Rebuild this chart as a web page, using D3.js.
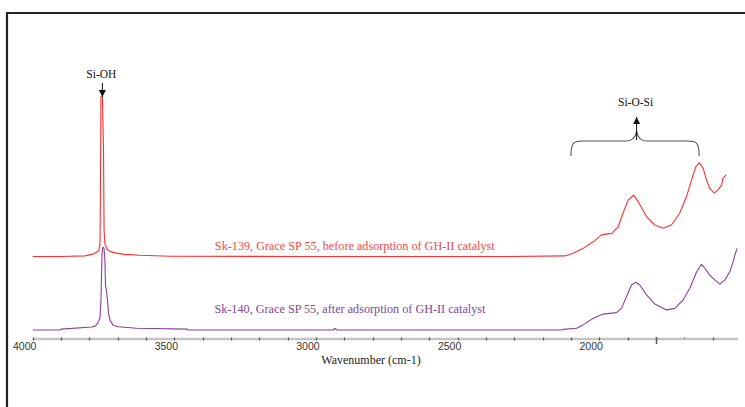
<!DOCTYPE html>
<html>
<head>
<meta charset="utf-8">
<script src="https://cdn.jsdelivr.net/npm/d3@7/dist/d3.min.js"></script>
<style>
  html, body { margin: 0; padding: 0; background: #fff; }
  svg { display: block; }
</style>
</head>
<body>
<svg id="chart" width="745" height="407"></svg>
<script>
// Sk-139: Grace SP 55 before adsorption of GH-II catalyst (wavenumber, absorbance)
const sk139Wn  = [4000, 3904, 3815, 3787, 3773, 3766, 3762.5, 3761, 3759, 3754, 3750, 3748, 3745, 3738, 3727, 3710, 3675, 3622, 3516, 3057, 2305, 2121, 2092, 2057, 2021, 1992, 1956, 1933, 1916, 1898, 1878, 1863, 1833, 1804, 1774, 1745, 1716, 1692, 1674, 1659, 1647, 1633, 1621, 1610, 1594, 1580, 1568, 1563, 1551];
const sk139Abs = [0.275, 0.275, 0.277, 0.283, 0.290, 0.297, 0.317, 0.463, 0.807, 0.807, 0.630, 0.363, 0.317, 0.300, 0.292, 0.287, 0.282, 0.279, 0.276, 0.275, 0.275, 0.277, 0.286, 0.302, 0.324, 0.347, 0.352, 0.374, 0.419, 0.463, 0.480, 0.458, 0.408, 0.380, 0.369, 0.380, 0.419, 0.474, 0.530, 0.574, 0.588, 0.569, 0.530, 0.502, 0.486, 0.497, 0.513, 0.536, 0.547];

// Sk-140: Grace SP 55 after adsorption of GH-II catalyst
const sk140Wn  = [4000, 3904, 3900, 3791, 3780, 3770, 3762.5, 3759, 3755.4, 3753, 3748.4, 3745, 3743, 3740, 3736, 3732.5, 3727, 3717, 3699, 3632, 3455, 3452, 2940, 2933, 2926, 2133, 2127, 2080, 2057, 2021, 1986, 1939, 1921, 1904, 1886, 1871, 1856.5, 1833, 1804, 1762.5, 1733, 1704, 1680, 1656, 1639, 1627, 1610, 1592, 1574, 1556, 1539, 1527, 1521, 1513];
const sk140Abs = [0.030, 0.030, 0.033, 0.040, 0.043, 0.053, 0.070, 0.130, 0.280, 0.306, 0.303, 0.263, 0.180, 0.163, 0.130, 0.087, 0.063, 0.047, 0.041, 0.036, 0.033, 0.030, 0.030, 0.035, 0.030, 0.030, 0.032, 0.036, 0.047, 0.069, 0.083, 0.088, 0.102, 0.141, 0.180, 0.189, 0.180, 0.147, 0.117, 0.097, 0.102, 0.130, 0.169, 0.224, 0.249, 0.236, 0.213, 0.197, 0.183, 0.197, 0.224, 0.258, 0.280, 0.302];

const tickValues = d3.range(4000, 1500, -100);
const tickLabels = ["4000", "3500", "3000", "2500", "2000"];
const labelValues = [4000, 3500, 3000, 2500, 2000];

const seriesNames = [
  "Sk-139, Grace SP 55, before adsorption of GH-II catalyst",
  "Sk-140, Grace SP 55, after adsorption of GH-II catalyst"
];
const seriesColors = ["#ff2e2e", "#8c3f9c"];
const labelColors = ["#ee4a4a", "#7d4896"];

const SERIF = "'Liberation Serif', 'Times New Roman', Times, serif";
const SANS = "'Liberation Sans', Arial, sans-serif";

const svg = d3.select("#chart");

const x = d3.scaleLinear().domain([4000, 1510]).range([32.7, 738]);
const y = d3.scaleLinear().domain([0, 1]).range([339, 39]);

// frame (top and left rules)
svg.append("line").attr("x1", 7).attr("x2", 745).attr("y1", 13).attr("y2", 13)
  .attr("stroke", "#222").attr("stroke-width", 2);
svg.append("line").attr("x1", 7).attr("x2", 7).attr("y1", 12).attr("y2", 407)
  .attr("stroke", "#222").attr("stroke-width", 2.2);

// x axis: light grey bar with small dark ticks
const axisY = y(0);
svg.append("line").attr("x1", x(4000)).attr("x2", x(1510)).attr("y1", axisY).attr("y2", axisY)
  .attr("stroke", "#c4c4c4").attr("stroke-width", 2.5);
svg.append("g").selectAll("line").data(tickValues).join("line")
  .attr("x1", d => Math.round(x(d)) + 0.5).attr("x2", d => Math.round(x(d)) + 0.5)
  .attr("y1", d => d === 1800 ? axisY - 2 : axisY - 1.5)
  .attr("y2", d => d === 1800 ? axisY + 5 : (d === 1700 ? axisY - 0.5 : axisY + 1.5))
  .attr("stroke", "#555").attr("stroke-width", d => d === 1800 ? 1.5 : 1.2);
svg.append("g").selectAll("text").data(labelValues).join("text")
  .attr("font-family", SANS)
  .attr("x", d => x(d) - 8).attr("y", axisY + 11)
  .attr("text-anchor", "middle")
  .attr("font-size", 10.5).attr("fill", "#333")
  .text((d, i) => tickLabels[i]);
svg.append("text").attr("font-family", SERIF)
  .attr("x", 371).attr("y", axisY + 25)
  .attr("text-anchor", "middle").attr("font-size", 12).attr("fill", "#222")
  .text("Wavenumber (cm-1)");

// spectra
const line = d3.line().x(d => x(d[0])).y(d => y(d[1]));
const series = [
  d3.zip(sk139Wn, sk139Abs),
  d3.zip(sk140Wn, sk140Abs)
];
svg.append("g").selectAll("path").data(series).join("path")
  .attr("d", line)
  .attr("fill", "none")
  .attr("stroke", (d, i) => seriesColors[i])
  .attr("stroke-width", 1.1)
  .attr("stroke-linejoin", "round");

// series captions
const captionPos = [[2863, 0.297], [2880, 0.088]];
svg.append("g").selectAll("text").data(seriesNames).join("text")
  .attr("font-family", SERIF)
  .attr("x", (d, i) => x(captionPos[i][0])).attr("y", (d, i) => y(captionPos[i][1]))
  .attr("text-anchor", "middle")
  .attr("font-size", 12.2)
  .attr("fill", (d, i) => labelColors[i])
  .text(d => d);

// arrowheads
const defs = svg.append("defs");
defs.append("marker").attr("id", "arrow").attr("viewBox", "0 0 10 10")
  .attr("refX", 10).attr("refY", 5).attr("markerWidth", 7).attr("markerHeight", 7)
  .attr("markerUnits", "userSpaceOnUse").attr("orient", "auto")
  .append("path").attr("d", "M0,0 L10,5 L0,10 Z").attr("fill", "#111");

// Si-OH annotation
const siohX = x(3754);
svg.append("line").attr("x1", siohX).attr("x2", siohX).attr("y1", 83).attr("y2", 97)
  .attr("stroke", "#111").attr("stroke-width", 1).attr("marker-end", "url(#arrow)");
svg.append("text").attr("font-family", SERIF).attr("x", siohX - 1).attr("y", 78)
  .attr("text-anchor", "middle").attr("font-size", 11.5).attr("fill", "#111").text("Si-OH");

// Si-O-Si annotation with brace over the 2100–1650 band
const bL = x(2100), bR = x(1647), bC = x(1868);
const braceTop = 141, braceEnd = 156, braceTip = 131;
const brace = d3.path();
brace.moveTo(bL, braceEnd);
brace.bezierCurveTo(bL, braceTop, bL + 4, braceTop, bL + 12, braceTop);
brace.lineTo(bC - 10, braceTop);
brace.bezierCurveTo(bC - 4, braceTop, bC - 1, braceTop - 4, bC, braceTip);
brace.bezierCurveTo(bC + 1, braceTop - 4, bC + 4, braceTop, bC + 10, braceTop);
brace.lineTo(bR - 12, braceTop);
brace.bezierCurveTo(bR - 4, braceTop, bR, braceTop, bR, braceEnd);
svg.append("path").attr("d", brace.toString())
  .attr("fill", "none").attr("stroke", "#555").attr("stroke-width", 1.1);
svg.append("line").attr("x1", bC).attr("x2", bC).attr("y1", 140).attr("y2", 117)
  .attr("stroke", "#111").attr("stroke-width", 1).attr("marker-end", "url(#arrow)");
svg.append("text").attr("font-family", SERIF).attr("x", bC - 1).attr("y", 106)
  .attr("text-anchor", "middle").attr("font-size", 11.5).attr("fill", "#111").text("Si-O-Si");
</script>
</body>
</html>
